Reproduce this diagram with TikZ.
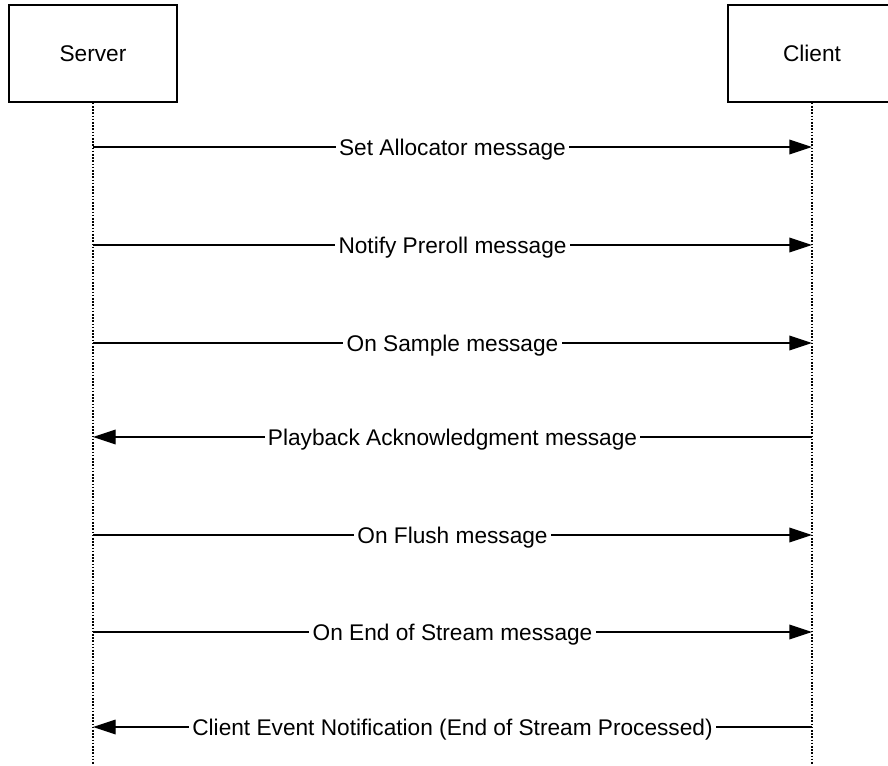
\documentclass[tikz,border=0pt]{standalone}
\usepackage{fontspec}
\setmainfont{Liberation Sans}
\usetikzlibrary{arrows.meta}

\tikzset{
    actor/.style={draw, line width=1.1pt, minimum width=126pt, minimum height=72.75pt,
        inner sep=0pt, font=\fontsize{17}{20}\selectfont},
    lifeline/.style={line width=1.1pt, dash pattern=on 1.2pt off 1.2pt},
    msg/.style={line width=1pt, -{Triangle[length=17pt,width=11pt]}},
    msglabel/.style={fill=white, inner sep=2.5pt, yshift=-1.8pt, font=\fontsize{17}{20}\selectfont}
}

\begin{document}
\begin{tikzpicture}[x=0.75pt, y=-0.75pt]
    \useasboundingbox (0,0) rectangle (888,765);

    % actors and their lifelines
    \node[actor] (server) at (93,53.5) {Server};
    \node[actor] (client) at (812,53.5) {Client};
    \coordinate (server end) at (93,765);
    \coordinate (client end) at (812,765);
    \draw[lifeline] (server) -- (server end);
    \draw[lifeline] (client) -- (client end);

    % messages
    \foreach \y/\from/\to/\txt in {
        147/s/c/Set Allocator message,
        245/s/c/Notify Preroll message,
        343/s/c/On Sample message,
        437/c/s/Playback Acknowledgment message,
        535/s/c/On Flush message,
        632/s/c/On End of Stream message,
        727/c/s/Client Event Notification (End of Stream Processed)} {
        \coordinate (s-\y) at (93,\y);
        \coordinate (c-\y) at (812,\y);
        \draw[msg] (\from-\y) -- node[msglabel] {\txt} (\to-\y);
    }
\end{tikzpicture}
\end{document}
